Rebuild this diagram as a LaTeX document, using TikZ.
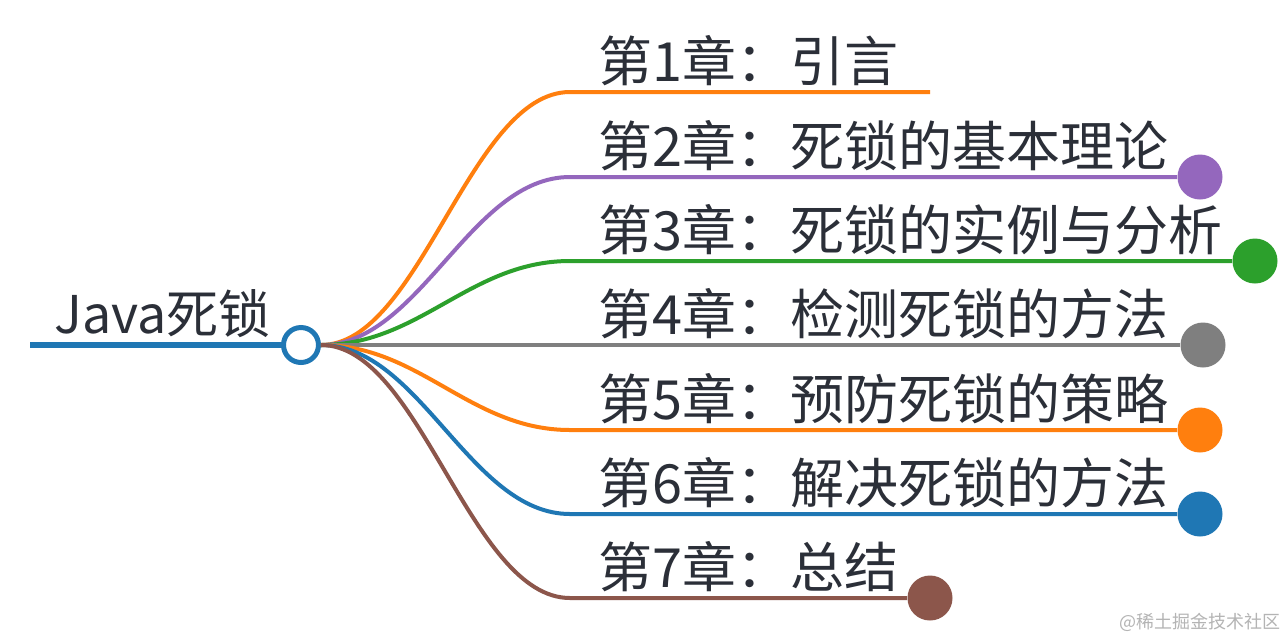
\documentclass[tikz,border=0pt]{standalone}
\usepackage{fontspec}
\setmainfont{Noto Sans CJK SC}
\usepackage{xcolor}
\usepackage{tikz}
\usetikzlibrary{positioning,calc}
\definecolor{tabblue}{HTML}{1F77B4}
\definecolor{taborange}{HTML}{FF7F0E}
\definecolor{tabgreen}{HTML}{2CA02C}
\definecolor{tabpurple}{HTML}{9467BD}
\definecolor{tabgray}{HTML}{7F7F7F}
\definecolor{tabbrown}{HTML}{8C564B}
\definecolor{ink}{HTML}{2B2F38}
\definecolor{markgray}{HTML}{B4B4B4}

\begin{document}
\begin{tikzpicture}[x=0.5pt,y=-0.5pt,font=\fontsize{27pt}{30pt}\selectfont,
  branch/.style={line width=2pt},
  enddot/.style={circle,fill=#1,inner sep=0pt,minimum size=22.5pt},
  label/.style={anchor=base west,inner sep=0pt,text=ink}]
  \fill[white] (0,0) rectangle (1286,639);
  \useasboundingbox (0,0) rectangle (1286,639);
  % root
  \coordinate (start) at (30,345);
  \draw[tabblue,line width=3pt] (start) -- (283,345);
  \node[circle,draw=tabblue,line width=2.5pt,fill=white,inner sep=0pt,
    minimum size=17.5pt] (root) at (301,345) {};
  \node[label,font=\fontsize{26pt}{30pt}\selectfont] (title) at (54,333) {Java死锁};
  % end dots
  \coordinate (d1) at (930,92);
  \foreach \i/\y/\c/\x in {2/177/tabpurple/1200, 3/261/tabgreen/1255,
      4/345/tabgray/1203, 5/430/taborange/1200, 6/514/tabblue/1200,
      7/598/tabbrown/930}
    \node[enddot=\c] (d\i) at (\x,\y) {};
  % branches
  \foreach \i/\y/\c/\t in {1/92/taborange/{第1章：引言},
      2/177/tabpurple/{第2章：死锁的基本理论},
      3/261/tabgreen/{第3章：死锁的实例与分析},
      4/345/tabgray/{第4章：检测死锁的方法},
      5/430/taborange/{第5章：预防死锁的策略},
      6/514/tabblue/{第6章：解决死锁的方法},
      7/598/tabbrown/{第7章：总结}}{
    \coordinate (k\i) at (570,\y);
    \draw[branch,\c] (root.east) .. controls (420,345) and (470,\y) .. (k\i) -- (d\i);
    \node[label] (t\i) at (598,\y-11) {\t};
  }
  \node[text=markgray,font=\fontsize{9pt}{10pt}\selectfont] (mark) at (1200,622)
    {@稀土掘金技术社区};
\end{tikzpicture}
\end{document}
